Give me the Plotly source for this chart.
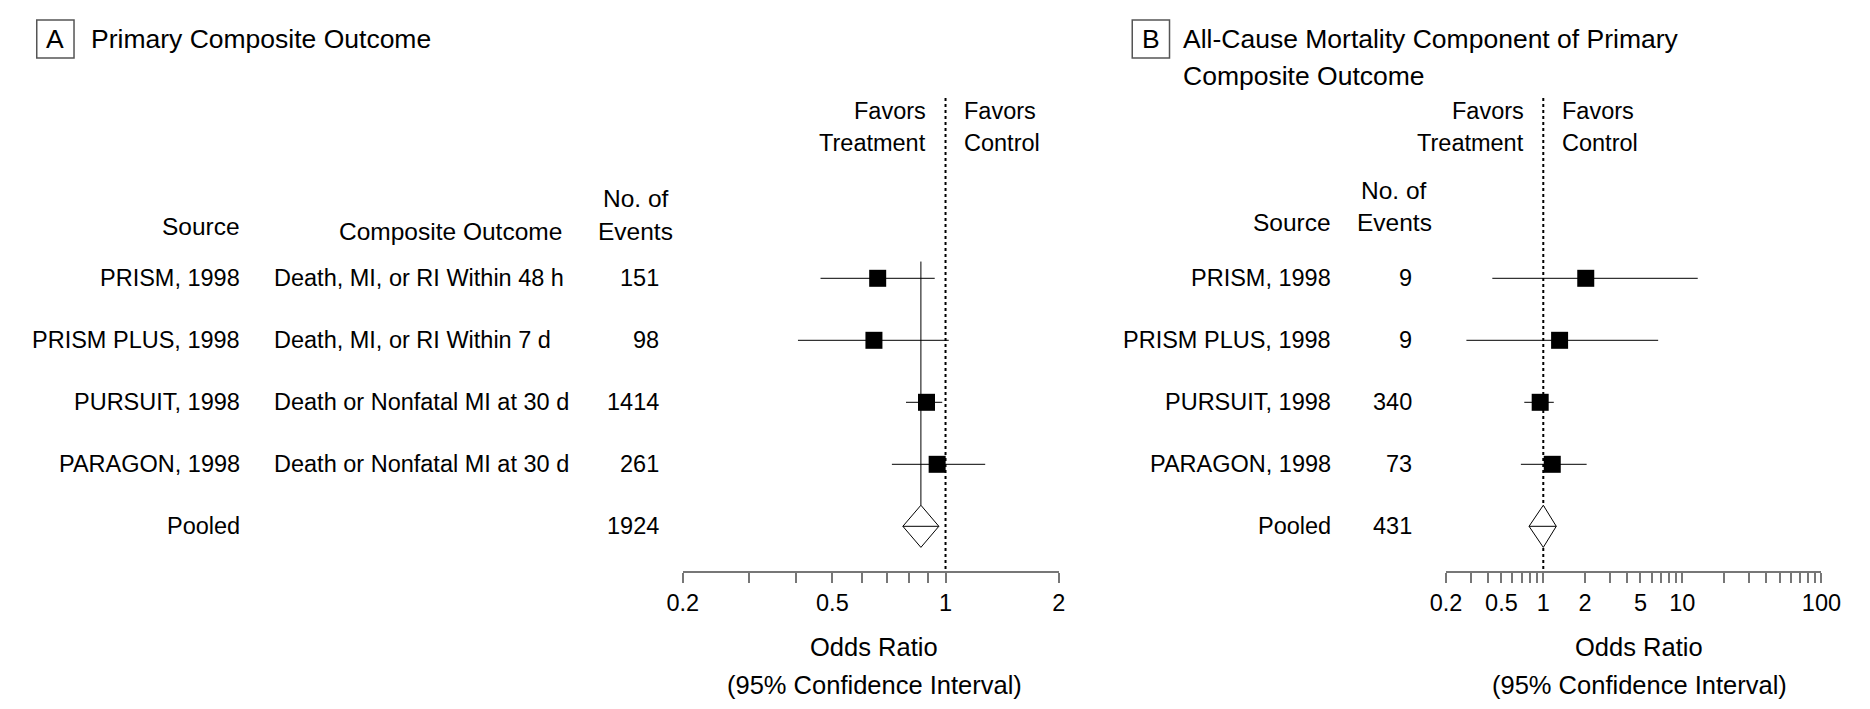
import math
import plotly.graph_objects as go

# ---------------- data ----------------
sources = ["PRISM, 1998", "PRISM PLUS, 1998", "PURSUIT, 1998", "PARAGON, 1998"]
pooled_label = "Pooled"
outcomes_a = ["Death, MI, or RI Within 48 h", "Death, MI, or RI Within 7 d",
              "Death or Nonfatal MI at 30 d", "Death or Nonfatal MI at 30 d"]
events_a = [151, 98, 1414, 261]
pooled_events_a = 1924
or_a = [0.66, 0.645, 0.89, 0.95]
lo_a = [0.465, 0.405, 0.785, 0.72]
hi_a = [0.936, 1.02, 0.98, 1.275]
pooled_a = [0.86, 0.77, 0.96]   # estimate, lower, upper

events_b = [9, 9, 340, 73]
pooled_events_b = 431
or_b = [2.02, 1.31, 0.95, 1.16]
lo_b = [0.43, 0.28, 0.73, 0.69]
hi_b = [12.9, 6.7, 1.19, 2.05]
pooled_b = [1.0, 0.79, 1.24]

rows = [5, 4, 3, 2]
pooled_row = 1

ticks_a = [0.2, 0.3, 0.4, 0.5, 0.6, 0.7, 0.8, 0.9, 1, 2]
labels_a = {0.2: "0.2", 0.5: "0.5", 1: "1", 2: "2"}
ticks_b = [0.2, 0.3, 0.4, 0.5, 0.6, 0.7, 0.8, 0.9, 1, 2, 3, 4, 5, 6, 7, 8, 9,
           10, 20, 30, 40, 50, 60, 70, 80, 90, 100]
labels_b = {0.2: "0.2", 0.5: "0.5", 1: "1", 2: "2", 5: "5", 10: "10", 100: "100"}

# ---------------- layout constants ----------------
W, H = 1870, 709
FONT = "Liberation Sans, Arial, Helvetica, sans-serif"
FS = 23.5          # row text, ticks, favors labels
FS_HEAD = 24.5     # column headers
FS_AXT = 25.5      # axis titles
FS_TITLE = 26.5    # panel titles
YR = [0.284, 7.908]
DIAMOND_H = 0.34

def px(p):
    return p / W

def py(p):
    return 1 - p / H

fig = go.Figure()

def add_panel(xa, est, lo, hi, pooled, draw_pool_line):
    # CI lines
    xs, ys = [], []
    for r, l, h in zip(rows, lo, hi):
        xs += [l, h, None]
        ys += [r, r, None]
    fig.add_trace(go.Scatter(x=xs, y=ys, mode="lines", xaxis=xa, yaxis="y",
                             line=dict(color="black", width=1), hoverinfo="skip"))
    # reference dotted line at 1
    fig.add_trace(go.Scatter(x=[1, 1], y=[YR[1], YR[0]], mode="lines", xaxis=xa, yaxis="y",
                             line=dict(color="black", width=2, dash="dot"), hoverinfo="skip"))
    # pooled vertical line
    if draw_pool_line:
        fig.add_trace(go.Scatter(x=[pooled[0], pooled[0]], y=[5.27, pooled_row + DIAMOND_H],
                                 mode="lines", xaxis=xa, yaxis="y",
                                 line=dict(color="black", width=1), hoverinfo="skip"))
    # squares
    fig.add_trace(go.Scatter(x=est, y=rows, mode="markers", xaxis=xa, yaxis="y",
                             marker=dict(symbol="square", size=17, color="black",
                                         line=dict(width=0))))
    # diamond
    e, l, h = pooled
    fig.add_trace(go.Scatter(x=[l, e, h, e, l],
                             y=[pooled_row, pooled_row + DIAMOND_H, pooled_row,
                                pooled_row - DIAMOND_H, pooled_row],
                             mode="lines", fill="toself", fillcolor="white",
                             xaxis=xa, yaxis="y",
                             line=dict(color="black", width=1), hoverinfo="skip"))
    fig.add_trace(go.Scatter(x=[l, h], y=[pooled_row, pooled_row], mode="lines",
                             xaxis=xa, yaxis="y",
                             line=dict(color="black", width=1), hoverinfo="skip"))

add_panel("x", or_a, lo_a, hi_a, pooled_a, True)
add_panel("x2", or_b, lo_b, hi_b, pooled_b, False)

axis_common = dict(type="log", showline=True, linecolor="#777", linewidth=2,
                   ticks="outside", ticklen=10, tickwidth=1.5, tickcolor="#777",
                   showgrid=False, zeroline=False, anchor="y",
                   tickfont=dict(family=FONT, size=FS, color="black"), fixedrange=True)

fig.update_layout(
    width=W, height=H,
    margin=dict(l=0, r=0, t=0, b=0),
    paper_bgcolor="white", plot_bgcolor="white",
    showlegend=False,
    font=dict(family=FONT, size=FS, color="black"),
    xaxis=dict(domain=[px(671.7), px(1055)],
               range=[math.log10(0.2), math.log10(2)],
               tickvals=ticks_a, ticktext=[labels_a.get(t, "") for t in ticks_a],
               **axis_common),
    xaxis2=dict(domain=[px(1450), px(1832.7)],
                range=[math.log10(0.2), math.log10(100)],
                tickvals=ticks_b, ticktext=[labels_b.get(t, "") for t in ticks_b],
                **axis_common),
    yaxis=dict(domain=[py(562.7), py(90)], range=YR, visible=False, fixedrange=True),
)

ann = []

def text(x, y, s, anchor="left", yref="paper", size=FS):
    ann.append(dict(x=px(x), y=(py(y) if yref == "paper" else y), xref="paper", yref=yref,
                    text=s, showarrow=False, xanchor=anchor, yanchor="middle",
                    font=dict(family=FONT, size=size, color="black")))

# Panel titles
fig.add_shape(type="rect", xref="paper", yref="paper", x0=px(13), x1=px(51), y0=py(12), y1=py(50),
              line=dict(color="#555", width=1.5))
text(32, 31, "A", "center", size=FS_TITLE)
text(66, 31, "Primary Composite Outcome", size=FS_TITLE)
fig.add_shape(type="rect", xref="paper", yref="paper", x0=px(1130), x1=px(1168), y0=py(12), y1=py(50),
              line=dict(color="#555", width=1.5))
text(1149, 31, "B", "center", size=FS_TITLE)
text(1180, 31, "All-Cause Mortality Component of Primary", size=FS_TITLE)
text(1180, 68, "Composite Outcome", size=FS_TITLE)

# Favors labels
for line_x in (939.5, 1549.5):
    text(line_x - 18, 103, "Favors", "right")
    text(line_x - 18, 135, "Treatment", "right")
    text(line_x + 17, 103, "Favors", "left")
    text(line_x + 17, 135, "Control", "left")

# Panel A headers
text(222, 219, "Source", "right", size=FS_HEAD)
text(551, 224, "Composite Outcome", "right", size=FS_HEAD)
text(624, 190, "No. of", "center", size=FS_HEAD)
text(624, 224, "Events", "center", size=FS_HEAD)
# Panel B headers
text(1335, 215, "Source", "right", size=FS_HEAD)
text(1397, 182, "No. of", "center", size=FS_HEAD)
text(1397, 215, "Events", "center", size=FS_HEAD)

# rows
for r, s, o, ea, eb in zip(rows, sources, outcomes_a, events_a, events_b):
    text(222, r, s, "right", yref="y")
    text(253, r, o, "left", yref="y")
    text(650, r, str(ea), "right", yref="y")
    text(1335, r, s, "right", yref="y")
    text(1417, r, str(eb), "right", yref="y")
text(222, pooled_row, pooled_label, "right", yref="y")
text(650, pooled_row, str(pooled_events_a), "right", yref="y")
text(1335, pooled_row, pooled_label, "right", yref="y")
text(1417, pooled_row, str(pooled_events_b), "right", yref="y")

# axis titles
text(867, 639, "Odds Ratio", "center", size=FS_AXT)
text(867, 677, "(95% Confidence Interval)", "center", size=FS_AXT)
text(1647, 639, "Odds Ratio", "center", size=FS_AXT)
text(1647, 677, "(95% Confidence Interval)", "center", size=FS_AXT)

fig.update_layout(annotations=ann)
fig.write_html("out.html")
